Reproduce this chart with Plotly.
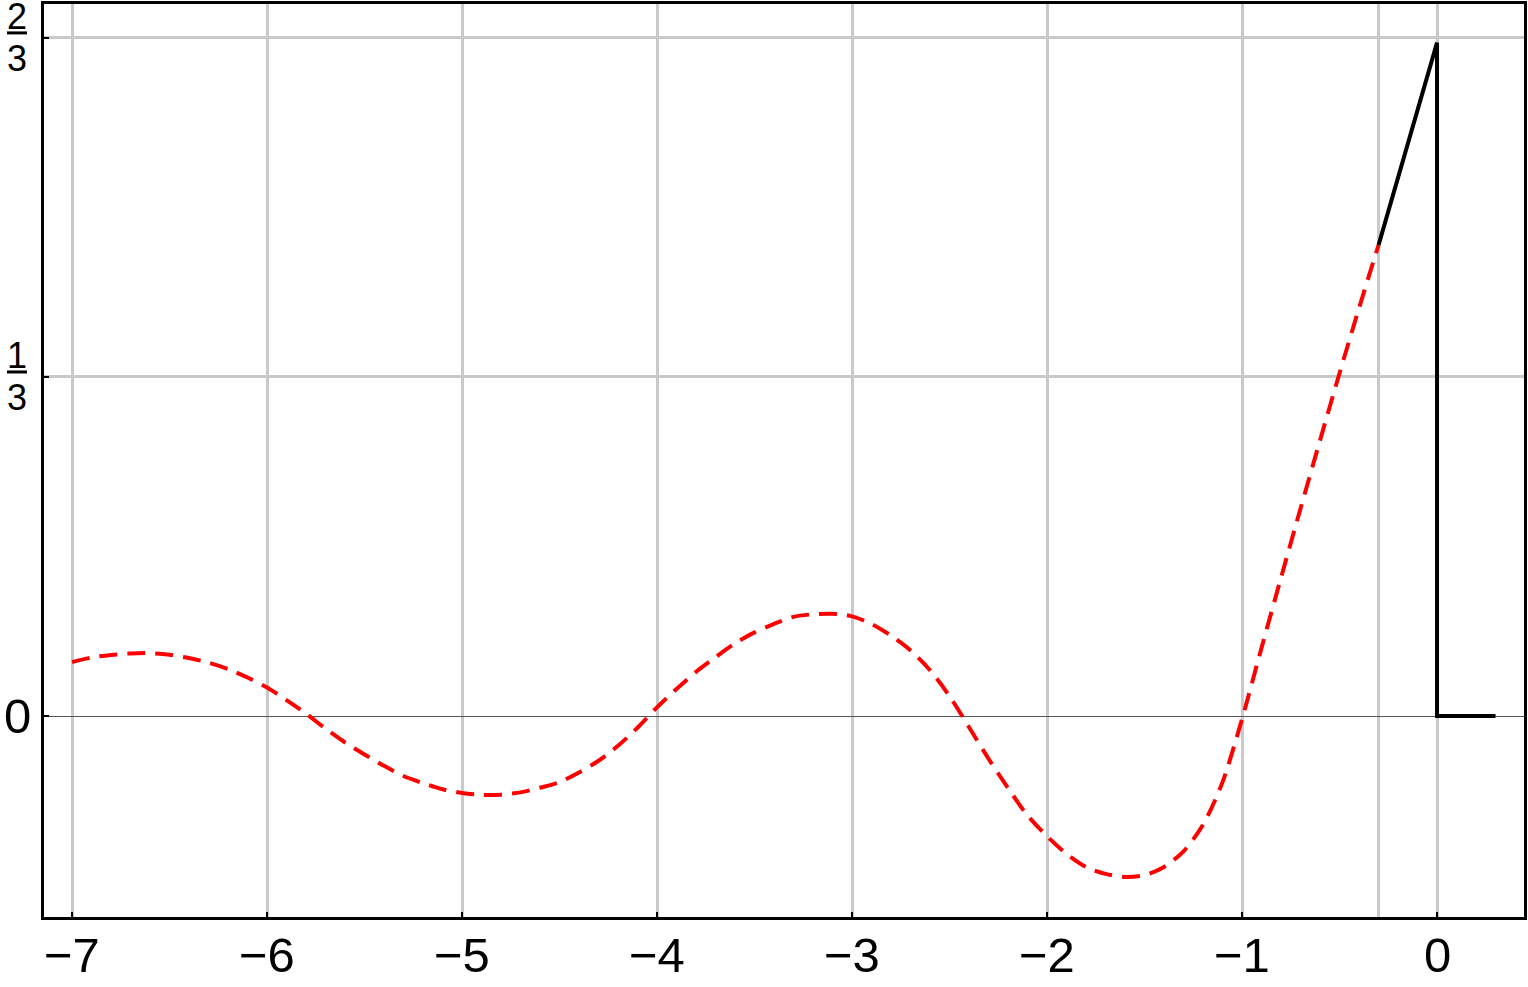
import plotly.graph_objects as go

# ---- data ----
wave_x = [-7.0, -6.9, -6.8, -6.7, -6.6, -6.5, -6.4, -6.3, -6.2, -6.1,
          -6.0, -5.9, -5.8, -5.7, -5.6, -5.5, -5.4, -5.3, -5.2, -5.1,
          -5.0, -4.9, -4.8, -4.7, -4.6, -4.5, -4.4, -4.3, -4.2, -4.1,
          -4.0, -3.9, -3.8, -3.7, -3.6, -3.5, -3.4, -3.3, -3.2, -3.1,
          -3.0, -2.9, -2.8, -2.7, -2.6, -2.5, -2.4, -2.3, -2.2, -2.1,
          -2.0, -1.9, -1.8, -1.7, -1.6, -1.5, -1.4, -1.3, -1.2, -1.1,
          -1.0, -0.9, -0.8, -0.7, -0.6, -0.5, -0.4, -0.3]
wave_y = [0.053, 0.0575, 0.060, 0.0615, 0.0618, 0.0602, 0.057, 0.0525, 0.0462, 0.0378,
          0.028, 0.0156, 0.0023, -0.0124, -0.026, -0.0378, -0.049, -0.059, -0.066, -0.072,
          -0.0757, -0.0775, -0.0773, -0.0751, -0.0705, -0.065, -0.0555, -0.044, -0.0293, -0.0115,
          0.0085, 0.0266, 0.0434, 0.0578, 0.0715, 0.0822, 0.0906, 0.0975, 0.1, 0.1005,
          0.098, 0.0905, 0.079, 0.0645, 0.045, 0.0195, -0.011, -0.042, -0.0708, -0.0978,
          -0.1182, -0.1355, -0.1484, -0.1552, -0.1582, -0.1565, -0.1484, -0.133, -0.107, -0.065,
          -0.003, 0.067, 0.136, 0.204, 0.271, 0.337, 0.401, 0.463]

pulse_x = [-0.3, 0.0, 0.0, 0.3]
pulse_y = [0.463, 0.662, 0.0, 0.0]

x_ticks = [-7, -6, -5, -4, -3, -2, -1, 0]
x_labels = ["\u22127", "\u22126", "\u22125", "\u22124", "\u22123", "\u22122", "\u22121", "0"]
x_extra_grid = [-0.3]

y_ticks = [0, 1 / 3, 2 / 3]
y_labels = ["0", "", ""]
y_fraction_ticks = [1 / 3, 2 / 3]
y_fraction_parts = [("1", "3"), ("2", "3")]

FONT = "Liberation Sans, Arial, sans-serif"
GRID = "#c9c9c9"

fig = go.Figure()
fig.add_trace(go.Scatter(
    x=wave_x, y=wave_y, mode="lines",
    line=dict(color="#ff0000", width=4, dash="18px,10px", shape="spline", smoothing=0.8),
    hoverinfo="skip", showlegend=False))
fig.add_trace(go.Scatter(
    x=pulse_x, y=pulse_y, mode="lines",
    line=dict(color="#000000", width=4),
    hoverinfo="skip", showlegend=False))

annotations = []
shapes = []
# x tick labels (placed as annotations for exact vertical placement)
for val, lab in zip(x_ticks, x_labels):
    annotations.append(dict(xref="x", yref="paper", x=val, y=0, yshift=-38,
                            text=lab, showarrow=False, xanchor="center", yanchor="middle",
                            font=dict(family=FONT, size=49, color="black")))
# fraction tick labels on y axis
for val, (num, den) in zip(y_fraction_ticks, y_fraction_parts):
    annotations.append(dict(xref="paper", yref="y", x=0, y=val, xshift=-27, yshift=21,
                            text=num, showarrow=False, xanchor="center", yanchor="middle",
                            font=dict(family=FONT, size=36, color="black")))
    annotations.append(dict(xref="paper", yref="y", x=0, y=val, xshift=-27, yshift=-21,
                            text=den, showarrow=False, xanchor="center", yanchor="middle",
                            font=dict(family=FONT, size=36, color="black")))
    shapes.append(dict(type="line", xref="paper", yref="y",
                       xsizemode="pixel", xanchor=0, x0=-37, x1=-17,
                       ysizemode="pixel", yanchor=val, y0=5, y1=5,
                       line=dict(color="black", width=3)))

fig.update_layout(
    template="none",
    width=1528, height=987,
    margin=dict(l=44, r=4, t=4, b=70, pad=0, autoexpand=False),
    paper_bgcolor="white", plot_bgcolor="white",
    font=dict(family=FONT, color="black"),
    annotations=annotations, shapes=shapes,
    xaxis=dict(
        range=[-7.1436, 0.446], tickvals=x_ticks, ticktext=[""] * len(x_ticks), automargin=False,
        showgrid=True, gridcolor=GRID, gridwidth=3, zeroline=False,
        showline=True, linecolor="black", linewidth=3, mirror=True,
        ticks="inside", ticklen=5, tickwidth=2, tickcolor="black",
        tickfont=dict(family=FONT, size=49, color="black"),
        minor=dict(tickvals=x_extra_grid, showgrid=True, gridcolor=GRID, gridwidth=3, ticks=""),
        fixedrange=True),
    yaxis=dict(
        range=[-0.1976, 0.700], tickvals=y_ticks, ticktext=y_labels, automargin=False,
        showgrid=True, gridcolor=GRID, gridwidth=3,
        zeroline=True, zerolinecolor="#555555", zerolinewidth=1,
        showline=True, linecolor="black", linewidth=3, mirror=True,
        ticks="inside", ticklen=5, tickwidth=2, tickcolor="black",
        tickfont=dict(family=FONT, size=49, color="black"),
        fixedrange=True),
)

fig.write_html("out.html", config={"displayModeBar": False},
               post_script="document.body.style.margin='0px';document.body.style.overflow='hidden';")
